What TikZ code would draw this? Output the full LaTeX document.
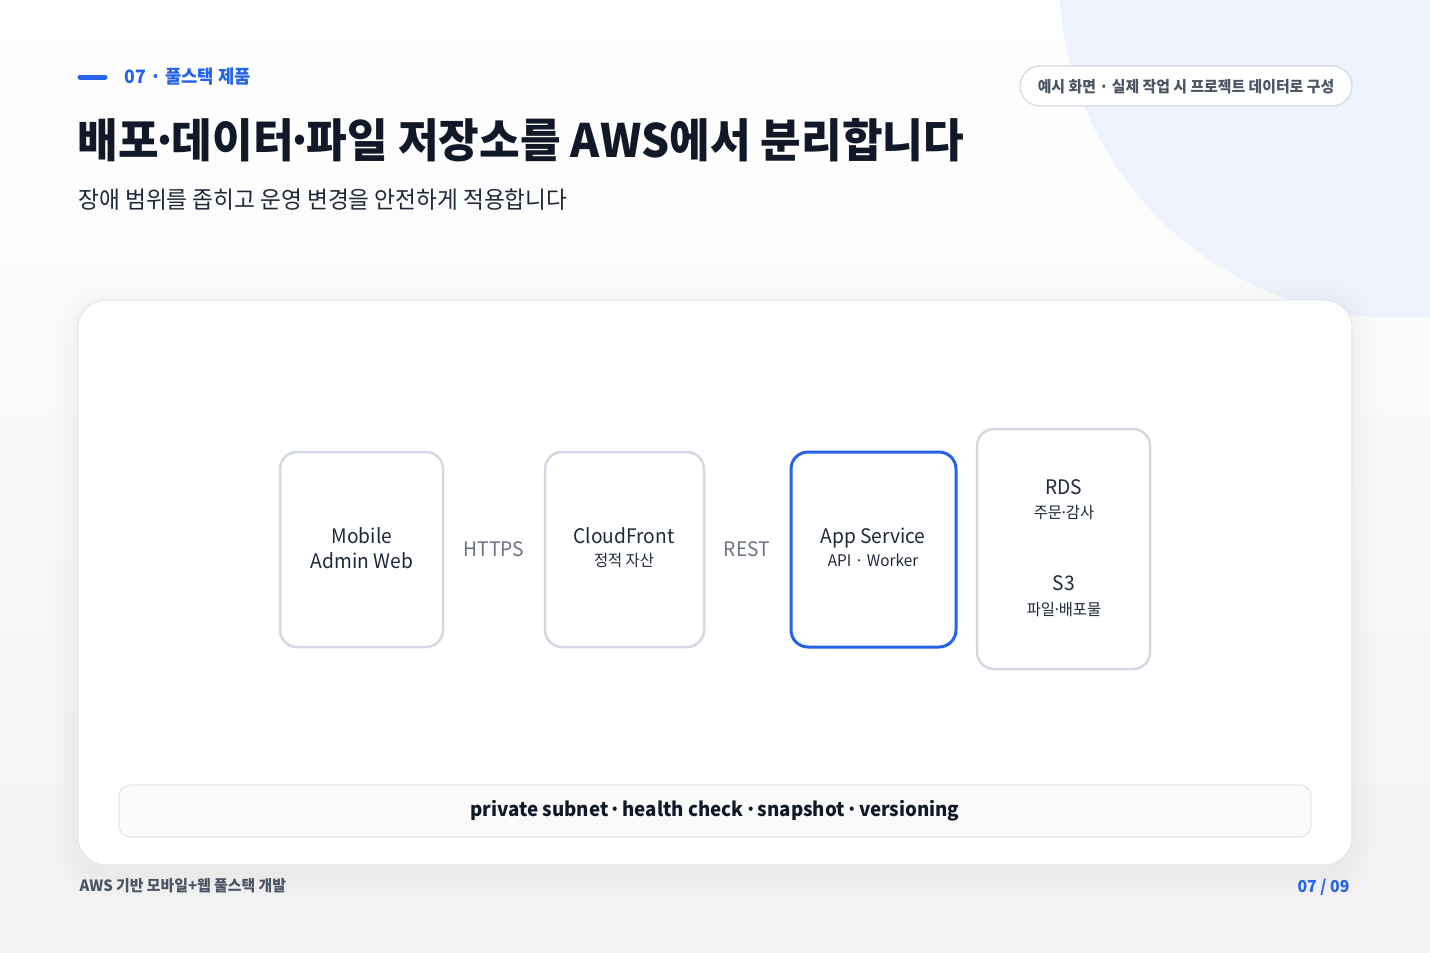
\documentclass[tikz,border=0pt]{standalone}
\usepackage{fontspec}
\setmainfont{Noto Sans CJK KR}[FakeStretch=0.96]
\usetikzlibrary{positioning}

\definecolor{accent}{HTML}{2563EB}
\definecolor{ink}{HTML}{111827}
\definecolor{body}{HTML}{1F2937}
\definecolor{muted}{HTML}{6B7280}
\definecolor{soft}{HTML}{4B5563}
\definecolor{edge}{HTML}{D3D9E2}
\definecolor{card}{HTML}{E4E8EE}
\definecolor{blob}{HTML}{EEF2FD}

% tight middle dot
\newcommand\mdot{\kern-.15em·\kern-.15em}

\begin{document}
\begin{tikzpicture}[x=1pt, y=-1pt,
  box/.style={draw=edge, line width=2.5pt, rounded corners=17pt, fill=white},
  svc/.style={anchor=base, text=body, font=\fontsize{20}{24}\selectfont},
  svcsub/.style={anchor=base, text=body, font=\fontsize{16}{20}\selectfont},
  proto/.style={anchor=base, text=muted, font=\fontsize{20}{24}\selectfont}]
% Background
\useasboundingbox (0,0) rectangle (1430,953);
\shade[top color=white, bottom color=black!5] (0,0) rectangle (1430,953);
\fill[blob] (1400,-23) circle (341);

% Heading
\draw[accent, line width=5pt, line cap=round] (80,77) -- (105,77);
\node[anchor=base west, text=accent, font=\fontsize{18.5}{22}\selectfont\bfseries] (tag) at (121,83) {07 · 풀스택 제품};
\node[anchor=base west, text=ink, font=\fontsize{46}{52}\selectfont\bfseries] (title) at (74,157) {배포\mdot 데이터\mdot 파일 저장소를 AWS에서 분리합니다};
\node[anchor=base west, text=body, font=\fontsize{23.6}{28}\selectfont] (lead) at (75,208) {장애 범위를 좁히고 운영 변경을 안전하게 적용합니다};
\draw[draw=edge, line width=1.2pt, fill=white, rounded corners=20pt] (1020,66) rectangle (1352,106);
\node[anchor=base, text=soft, font=\fontsize{15.5}{18}\selectfont\bfseries] (pill) at (1186,92) {예시 화면 · 실제 작업 시 프로젝트 데이터로 구성};

% Card
\foreach \s in {2,5,...,26}
  \fill[black, opacity=0.005, rounded corners=28pt+\s] (78-\s,300-\s+8) rectangle (1352+\s,865+\s+8);
\draw[draw=card, line width=1.2pt, fill=white, rounded corners=28pt] (78,300) rectangle (1352,865);

% Nodes
\draw[box] (280,452) rectangle (443,647);
\node[svc] (mobile) at (362,543) {Mobile};
\node[svc] (admin) at (362,568) {Admin Web};
\node[proto] (https) at (494,556) {HTTPS};
\draw[box] (545,452) rectangle (704,647);
\node[svc] (cdn) at (624,543) {CloudFront};
\node[svcsub] (cdnsub) at (624,566) {정적 자산};
\node[proto] (rest) at (747,556) {REST};
\draw[box, draw=accent, line width=3pt] (791,452) rectangle (956,647);
\node[svc] (app) at (873,543) {App Service};
\node[svcsub] (appsub) at (873,566) {API · Worker};
\draw[box] (977,429) rectangle (1150,669);
\node[svc] (rds) at (1064,494) {RDS};
\node[svcsub] (rdssub) at (1064,518) {주문\mdot 감사};
\node[svc] (s3) at (1064,590) {S3};
\node[svcsub] (s3sub) at (1064,615) {파일\mdot 배포물};

% Footer bar
\draw[draw=card, line width=1.2pt, fill=black!2, rounded corners=11pt] (119,785) rectangle (1311,837);
\node[anchor=base, text=ink, font=\fontsize{19.5}{24}\selectfont\bfseries] (ops) at (715,816) {private subnet \mdot{} health check \mdot{} snapshot \mdot{} versioning};
\node[anchor=base west, text=soft, font=\fontsize{15.5}{18}\selectfont\bfseries] (brand) at (76,891) {AWS 기반 모바일+웹 풀스택 개발};
\node[anchor=base east, text=accent, font=\fontsize{16.5}{19}\selectfont\bfseries] (page) at (1353,892) {07 / 09};
\end{tikzpicture}
\end{document}
